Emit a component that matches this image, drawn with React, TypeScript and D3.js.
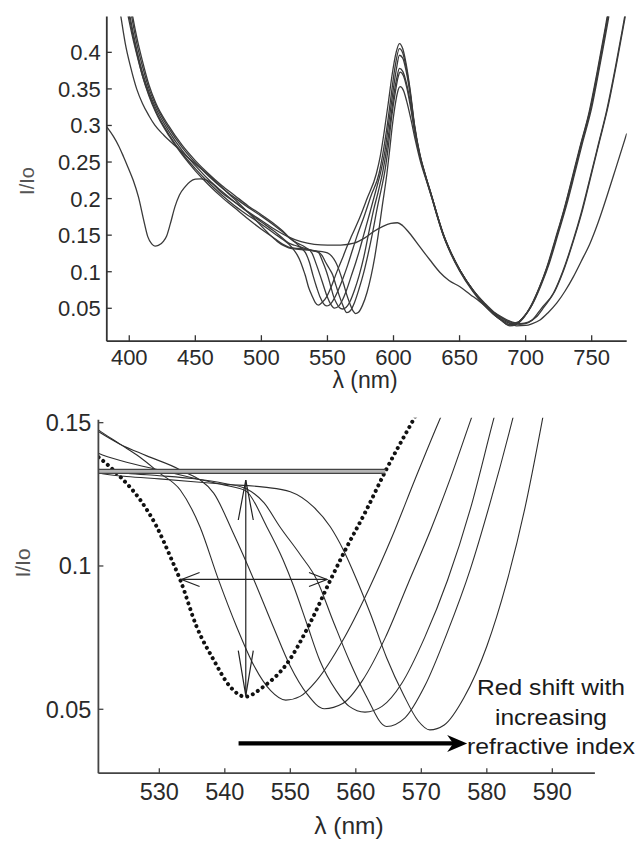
import React from "react";
import * as d3 from "d3";

// ---------- DATA (wavelength nm, I/Io) ----------
const c543: [number, number][] = [
  [386, 0.6], [390, 0.55], [394, 0.5], [398, 0.46], [402, 0.425], [406, 0.395], [410, 0.368], [415, 0.342],
  [420, 0.32], [430, 0.288], [440, 0.262], [450, 0.241], [460, 0.222], [470, 0.205], [480, 0.19], [490, 0.177],
  [500, 0.165], [510, 0.152], [516, 0.1445], [520.7, 0.138], [524, 0.1312], [527.1, 0.123], [529.6, 0.1137],
  [531.9, 0.1021], [533.2, 0.0951], [535.7, 0.0788], [538.3, 0.0672], [540.8, 0.0579], [543.1, 0.0544],
  [545.9, 0.0579], [549.5, 0.066], [553, 0.08], [556.1, 0.095], [558.4, 0.1056], [561.5, 0.119], [564.5, 0.133],
  [568.5, 0.1498], [574, 0.172], [580, 0.2], [587, 0.234], [590, 0.258], [593, 0.292], [596, 0.33], [599, 0.37],
  [602, 0.4], [604.5, 0.412], [607, 0.405], [609.5, 0.385], [612.5, 0.35], [616, 0.3], [620, 0.26], [624.5, 0.23],
  [629, 0.203], [633, 0.178], [637, 0.155], [643, 0.128], [650, 0.103], [660, 0.075], [668, 0.057], [675, 0.044],
  [682, 0.034], [688, 0.028], [693, 0.0295], [698, 0.037], [704, 0.052], [711, 0.08], [717, 0.109], [723.5, 0.148],
  [730, 0.188], [736, 0.23], [742, 0.273], [749, 0.321], [755, 0.375], [761.4, 0.439], [768, 0.51], [775, 0.59],
];

const c549: [number, number][] = [
  [386, 0.74], [390, 0.64], [394, 0.56], [398, 0.5], [402, 0.455], [406, 0.418], [410, 0.388], [415, 0.355],
  [420, 0.331], [430, 0.299], [440, 0.273], [450, 0.252], [460, 0.234], [470, 0.218], [480, 0.204], [490, 0.19],
  [500, 0.178], [510, 0.165], [516, 0.156], [520.7, 0.1475], [524, 0.1425], [527, 0.138], [530, 0.1325],
  [533.2, 0.1265], [536.2, 0.1137], [539, 0.0954], [541.8, 0.0788], [544.5, 0.065], [547, 0.0565], [549.3, 0.0532],
  [551.5, 0.0545], [554, 0.06], [558, 0.074], [562, 0.092], [565.5, 0.11], [569, 0.13], [572.6, 0.15], [578, 0.177],
  [583, 0.204], [589, 0.234], [592, 0.262], [595, 0.297], [598, 0.338], [601, 0.378], [604.5, 0.405], [607, 0.399],
  [609.5, 0.38], [612.5, 0.347], [616, 0.298], [620, 0.258], [624.5, 0.229], [629, 0.202], [633, 0.177], [637, 0.154],
  [643, 0.127], [650, 0.102], [660, 0.074], [668, 0.056], [675, 0.043], [682, 0.033], [687, 0.027], [692, 0.028],
  [697, 0.035], [703, 0.05], [710, 0.077], [716, 0.106], [722.5, 0.145], [729, 0.185], [735, 0.227], [741, 0.27],
  [748, 0.318], [754, 0.372], [760.5, 0.436], [767, 0.505], [775, 0.6],
];

const c555: [number, number][] = [
  [386, 0.7], [390, 0.62], [394, 0.55], [398, 0.49], [402, 0.447], [406, 0.41], [410, 0.381], [415, 0.35],
  [420, 0.328], [430, 0.296], [440, 0.27], [450, 0.249], [460, 0.231], [470, 0.215], [480, 0.201], [490, 0.188],
  [500, 0.176], [510, 0.163], [516, 0.1545], [520.7, 0.1469], [524, 0.1425], [528, 0.1385], [533.2, 0.1335],
  [538.3, 0.1254], [541.3, 0.1114], [544.4, 0.0954], [547.4, 0.0788], [550, 0.065], [552.5, 0.0555], [555.2, 0.0502],
  [558, 0.052], [561, 0.06], [564.5, 0.075], [568, 0.094], [571.5, 0.113], [574.5, 0.131], [577.4, 0.15], [582, 0.18],
  [586.5, 0.21], [590.5, 0.238], [593.5, 0.265], [596.5, 0.305], [599.5, 0.345], [602, 0.375], [604.5, 0.396],
  [607, 0.392], [609.5, 0.375], [612.5, 0.344], [616, 0.297], [620, 0.26], [624.5, 0.23], [629, 0.203], [633, 0.178],
  [637, 0.155], [643, 0.128], [650, 0.103], [660, 0.075], [668, 0.057], [675, 0.045], [682, 0.035], [689, 0.029],
  [694, 0.031], [699, 0.039], [705, 0.055], [712, 0.083], [718, 0.112], [724.5, 0.151], [731, 0.191], [737, 0.233],
  [743, 0.276], [750, 0.324], [756, 0.38], [762.4, 0.443], [769, 0.515], [776, 0.6],
];

const c561: [number, number][] = [
  [386, 0.66], [390, 0.59], [394, 0.53], [398, 0.475], [402, 0.436], [406, 0.401], [410, 0.373], [415, 0.345],
  [420, 0.324], [430, 0.292], [440, 0.266], [450, 0.245], [460, 0.226], [470, 0.21], [480, 0.195], [490, 0.181],
  [500, 0.168], [510, 0.155], [516, 0.146], [520.7, 0.1393], [525, 0.1362], [530, 0.1335], [535, 0.1308],
  [540, 0.1282], [543.2, 0.1262], [546.4, 0.1137], [548.9, 0.1021], [550.5, 0.093], [552.5, 0.08], [554.5, 0.067],
  [557, 0.0565], [559, 0.051], [561.4, 0.049], [564, 0.051], [567, 0.059], [570.5, 0.075], [574, 0.095], [577.5, 0.12],
  [580.9, 0.15], [585, 0.185], [588.5, 0.21], [592, 0.238], [595, 0.27], [597.5, 0.305], [600.5, 0.345],
  [602.5, 0.365], [604.5, 0.378], [607, 0.374], [609.5, 0.36], [612.5, 0.334], [616, 0.292], [620, 0.257],
  [624.5, 0.228], [629, 0.201], [633, 0.176], [637, 0.153], [643, 0.126], [650, 0.101], [660, 0.073], [668, 0.055],
  [675, 0.043], [682, 0.033], [688, 0.026], [693, 0.028], [698, 0.036], [704, 0.053], [711, 0.081], [717, 0.11],
  [723.5, 0.149], [730, 0.19], [736, 0.232], [742, 0.275], [749, 0.323], [755, 0.378], [761.4, 0.441], [768, 0.512],
  [775, 0.6],
];

const c565: [number, number][] = [
  [386, 0.64], [390, 0.575], [394, 0.52], [398, 0.47], [402, 0.43], [406, 0.397], [410, 0.368], [415, 0.34],
  [420, 0.318], [430, 0.286], [440, 0.26], [450, 0.238], [460, 0.219], [470, 0.202], [480, 0.187], [490, 0.172],
  [500, 0.158], [510, 0.1455], [516, 0.1378], [520.7, 0.1337], [525, 0.1324], [530, 0.1315], [535, 0.1305],
  [540, 0.1288], [543.2, 0.127], [546, 0.122], [548.4, 0.1137], [551.5, 0.104], [554, 0.0954], [556.5, 0.081],
  [559, 0.067], [561.5, 0.055], [564.7, 0.044], [567.5, 0.047], [570.5, 0.058], [574, 0.077], [577.5, 0.099],
  [580.5, 0.122], [583.8, 0.15], [588, 0.19], [591, 0.215], [593.5, 0.238], [596, 0.27], [598.5, 0.31],
  [601.5, 0.347], [603.5, 0.366], [605, 0.373], [607.5, 0.368], [610, 0.352], [613, 0.324], [616.5, 0.287],
  [620.5, 0.254], [625, 0.226], [629.5, 0.2], [633.5, 0.175], [637.5, 0.152], [644, 0.124], [651, 0.1], [661, 0.073],
  [669, 0.056], [676, 0.044], [683, 0.036], [690, 0.03], [695, 0.028], [700, 0.029], [705, 0.034], [712, 0.05],
  [721, 0.0705], [728, 0.1], [736, 0.143], [742, 0.18], [749, 0.23], [755, 0.274], [761.4, 0.321], [768, 0.38],
  [774, 0.439], [780, 0.5],
];

const c571: [number, number][] = [
  [384, 0.62], [388, 0.53], [391, 0.48], [394, 0.445], [397, 0.412], [401, 0.38], [405.6, 0.35], [410, 0.33],
  [415, 0.313], [419.5, 0.3], [426, 0.287], [433, 0.275], [440, 0.264], [447, 0.252], [455, 0.24], [465, 0.224],
  [475, 0.207], [485, 0.19], [495, 0.172], [505, 0.153], [512, 0.1415], [517, 0.1355], [520.7, 0.1325],
  [525, 0.1312], [530, 0.1304], [540, 0.1285], [546, 0.1275], [550, 0.1259], [553.5, 0.1207], [556.1, 0.1137],
  [558.1, 0.1056], [560.1, 0.0954], [562.2, 0.0835], [564.7, 0.068], [567.3, 0.055], [569.5, 0.046],
  [571.3, 0.0428], [573.5, 0.0445], [576.5, 0.054], [580, 0.072], [583, 0.094], [585.8, 0.12], [588.4, 0.15],
  [591.5, 0.19], [595, 0.234], [597, 0.265], [599, 0.298], [601, 0.325], [603, 0.345], [605, 0.353], [607.5, 0.348],
  [610, 0.333], [613, 0.31], [616.5, 0.28], [620.5, 0.25], [625, 0.224], [629.5, 0.198], [633.5, 0.174],
  [637.5, 0.151], [644, 0.124], [651, 0.1], [661, 0.073], [669, 0.057], [676, 0.045], [683, 0.037], [690, 0.031],
  [696, 0.029], [702, 0.031], [708, 0.038], [714, 0.052], [722, 0.073], [729, 0.103], [737, 0.147], [743, 0.184],
  [750, 0.235], [756, 0.279], [762.4, 0.326], [769, 0.386], [775, 0.445], [781, 0.51],
];

const cRef: [number, number][] = [
  [383, 0.298], [388, 0.285], [392, 0.272], [395.5, 0.258], [399, 0.243], [403, 0.225], [407, 0.202], [411, 0.17],
  [414, 0.148], [417, 0.138], [419.5, 0.135], [422, 0.136], [426, 0.142], [428.3, 0.149], [431, 0.165],
  [434.6, 0.189], [438, 0.205], [442.2, 0.216], [446, 0.223], [450, 0.2265], [454, 0.227], [458, 0.2255],
  [462.4, 0.221], [470, 0.208], [480, 0.195], [490, 0.182], [500, 0.17], [510, 0.158], [520, 0.148], [530, 0.141],
  [540, 0.1375], [550, 0.1365], [560, 0.1365], [570, 0.139], [578, 0.146], [585, 0.155], [592, 0.162], [598, 0.166],
  [603, 0.167], [607, 0.163], [612, 0.153], [620, 0.134], [627.6, 0.116], [635.2, 0.099], [642, 0.088],
  [650.3, 0.0795], [658, 0.069], [665.4, 0.059], [673, 0.048], [680.6, 0.0385], [688, 0.03], [693, 0.026],
  [700, 0.0265], [705, 0.029], [710.9, 0.034], [717, 0.044], [723.5, 0.057], [730, 0.074], [736.1, 0.093],
  [742, 0.114], [748.8, 0.139], [755, 0.168], [761.4, 0.2025], [768, 0.24], [776.5, 0.289],
];

const topSeries = [cRef, c543, c549, c555, c561, c565, c571];
const bottomSolid = [c549, c555, c561, c565, c571];
const bottomDotted = c543;

const topXTicks = [400, 450, 500, 550, 600, 650, 700, 750];
const topYTicks = [0.05, 0.1, 0.15, 0.2, 0.25, 0.3, 0.35, 0.4];
const botXTicks = [530, 540, 550, 560, 570, 580, 590];
const botYTicks = [0.05, 0.1, 0.15];

// annotations (data coords)
const levelLines = [0.1337, 0.1323];
const levelEnd = 564.5;
const vArrow = { x: 543.2, y1: 0.13, y2: 0.0548 };
const hArrow = { y: 0.0953, x1: 533.4, x2: 555.6 };
const shiftArrow = { y: 0.0381, x1: 542.1, x2: 577.0 };
const noteLines = ["Red shift with", "increasing", "refractive index"];

const fmt = (v: number) => String(+v.toFixed(2));

export default function App() {
  const FONT = "'Liberation Sans', Arial, Helvetica, sans-serif";
  const ink = "#333";

  const xT = d3.scaleLinear().domain([383, 776.5]).range([106.8, 626.7]);
  const yT = d3.scaleLinear().domain([0.005, 0.449]).range([341.2, 16.5]);
  const xB = d3.scaleLinear().domain([520.7, 596.5]).range([98.4, 594.9]);
  const yB = d3.scaleLinear().domain([0.0277, 0.151]).range([773.2, 419.8]);

  const lineT = d3
    .line<[number, number]>()
    .x((d) => xT(d[0]))
    .y((d) => yT(d[1]))
    .curve(d3.curveMonotoneX);
  const lineB = d3
    .line<[number, number]>()
    .x((d) => xB(d[0]))
    .y((d) => yB(d[1]))
    .curve(d3.curveMonotoneX);

  const [tx0, tx1] = xT.range();
  const [ty0, ty1] = yT.range();
  const [bx0, bx1] = xB.range();
  const [by0, by1] = yB.range();

  const vx = xB(vArrow.x);
  const vTop = yB(vArrow.y1);
  const vBot = yB(vArrow.y2);
  const hy = yB(hArrow.y);
  const hL = xB(hArrow.x1);
  const hR = xB(hArrow.x2);
  const sy = yB(shiftArrow.y);
  const sL = xB(shiftArrow.x1);
  const sR = xB(shiftArrow.x2);

  return (
    <svg
      width={638}
      height={844}
      viewBox="0 0 638 844"
      style={{ position: "absolute", left: 0, top: 0, background: "#fff" }}
      fontFamily={FONT}
    >
      <defs>
        <clipPath id="clipT">
          <rect x={tx0} y={ty1} width={tx1 - tx0} height={ty0 - ty1} />
        </clipPath>
        <clipPath id="clipB">
          <rect x={bx0} y={by1 - 2} width={bx1 - bx0} height={by0 - by1 + 2} />
        </clipPath>
      </defs>
      <rect width={638} height={844} fill="#fff" />

      {/* ---------------- TOP CHART ---------------- */}
      <g clipPath="url(#clipT)">
        {topSeries.map((s, i) => (
          <path key={i} d={lineT(s) || ""} fill="none" stroke="#3a3a3a" strokeWidth={1.3} />
        ))}
      </g>
      <line x1={tx0} x2={tx0} y1={ty1} y2={ty0} stroke={ink} strokeWidth={1.8} />
      <line x1={tx0} x2={tx1} y1={ty0} y2={ty0} stroke={ink} strokeWidth={1.8} />
      {topYTicks.map((t) => (
        <g key={t}>
          <line x1={tx0} x2={tx0 + 5} y1={yT(t)} y2={yT(t)} stroke={ink} strokeWidth={1.3} />
          <text x={tx0 - 6} y={yT(t)} dy="0.36em" textAnchor="end" fontSize={22} fill="#2a2a2a">
            {fmt(t)}
          </text>
        </g>
      ))}
      {topXTicks.map((t) => (
        <g key={t}>
          <line x1={xT(t)} x2={xT(t)} y1={ty0} y2={ty0 - 6} stroke={ink} strokeWidth={1.3} />
          <text x={xT(t)} y={365} textAnchor="middle" fontSize={22} fill="#2a2a2a">
            {t}
          </text>
        </g>
      ))}
      <text x={365} y={388} textAnchor="middle" fontSize={23} fill="#2a2a2a">
        λ (nm)
      </text>
      <text transform="translate(33.5,181) rotate(-90)" textAnchor="middle" fontSize={20} fill="#555">
        I/Io
      </text>

      {/* ---------------- BOTTOM CHART ---------------- */}
      <g clipPath="url(#clipB)">
        {bottomSolid.map((s, i) => (
          <path key={i} d={lineB(s) || ""} fill="none" stroke="#2e2e2e" strokeWidth={1.1} />
        ))}
        <path
          d={lineB(bottomDotted) || ""}
          fill="none"
          stroke="#111"
          strokeWidth={4}
          strokeLinecap="round"
          strokeDasharray="0.01 6"
        />
      </g>

      {/* double level line */}
      <rect
        x={bx0}
        y={yB(levelLines[0])}
        width={xB(levelEnd) - bx0}
        height={yB(levelLines[1]) - yB(levelLines[0])}
        fill="#b5b5b5"
      />
      {levelLines.map((l) => (
        <line key={l} x1={bx0} x2={xB(levelEnd)} y1={yB(l)} y2={yB(l)} stroke="#444" strokeWidth={1.1} />
      ))}

      {/* vertical double arrow */}
      <g stroke="#222" strokeWidth={1.2} fill="none">
        <line x1={vx} x2={vx} y1={vTop} y2={vBot} />
        <polyline points={`${vx - 7.5},${vTop + 40} ${vx},${vTop} ${vx + 7.5},${vTop + 40}`} />
        <polyline points={`${vx - 7.5},${vBot - 45} ${vx},${vBot} ${vx + 7.5},${vBot - 45}`} />
        {/* horizontal double arrow */}
        <line x1={hL} x2={hR} y1={hy} y2={hy} />
        <polyline points={`${hL + 18},${hy - 7} ${hL},${hy} ${hL + 18},${hy + 7}`} />
        <polyline points={`${hR - 18},${hy - 7} ${hR},${hy} ${hR - 18},${hy + 7}`} />
      </g>

      {/* bold red-shift arrow */}
      <line x1={sL} x2={sR - 10} y1={sy} y2={sy} stroke="#000" strokeWidth={4.2} />
      <path
        d={`M${sR},${sy} L${sR - 20},${sy - 8.5} L${sR - 14},${sy} L${sR - 20},${sy + 8.5} Z`}
        fill="#000"
      />

      {/* note text */}
      {noteLines.map((t, i) => (
        <text
          key={t}
          x={551}
          y={695 + i * 29.5}
          textAnchor="middle"
          fontSize={22.5}
          fill="#1a1a1a"
          textLength={[148, 112, 168][i]}
          lengthAdjust="spacingAndGlyphs"
        >
          {t}
        </text>
      ))}

      {/* bottom axes */}
      <line x1={bx0} x2={bx0} y1={by1} y2={by0} stroke="#444" strokeWidth={1.8} />
      <line x1={bx0} x2={bx1} y1={by0} y2={by0} stroke="#444" strokeWidth={1.8} />
      {botYTicks.map((t) => (
        <g key={t}>
          <line x1={bx0} x2={bx0 + 5} y1={yB(t)} y2={yB(t)} stroke="#444" strokeWidth={1.3} />
          <text x={bx0 - 7} y={yB(t)} dy="0.36em" textAnchor="end" fontSize={23.5} fill="#2a2a2a">
            {fmt(t)}
          </text>
        </g>
      ))}
      {botXTicks.map((t) => (
        <g key={t}>
          <line x1={xB(t)} x2={xB(t)} y1={by0} y2={by0 - 5} stroke="#444" strokeWidth={1.3} />
          <text x={xB(t)} y={800} textAnchor="middle" fontSize={23.5} fill="#2a2a2a">
            {t}
          </text>
        </g>
      ))}
      <text x={349} y={834} textAnchor="middle" fontSize={24.5} fill="#2a2a2a">
        λ (nm)
      </text>
      <text transform="translate(30,563) rotate(-90)" textAnchor="middle" fontSize={21} fill="#555">
        I/Io
      </text>
    </svg>
  );
}
